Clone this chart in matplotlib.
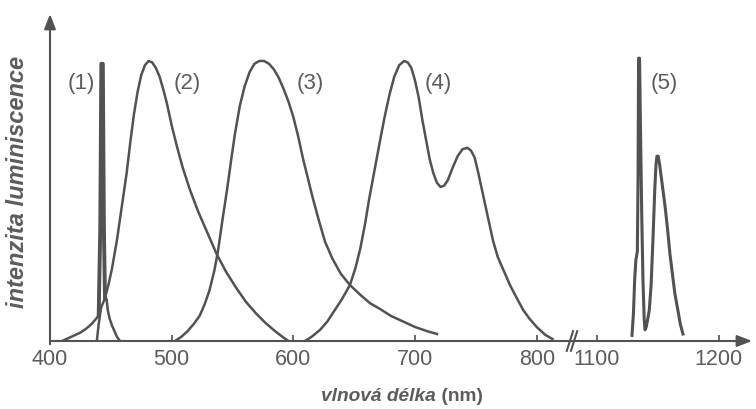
import matplotlib
matplotlib.use('Agg')
import matplotlib.pyplot as plt

# Luminiscenční spektra odečtená z obrázku
# vlnová délka v nm, intenzita normovaná na maximum

wl_1 = [410, 415, 420, 425, 430, 434, 437, 440, 441.3, 442.2, 443.4, 444.3, 445.2, 446.5,
        447.5, 449, 451, 453, 455, 457]
int_1 = [0.0, 0.01, 0.02, 0.03, 0.045, 0.06, 0.075, 0.09, 0.4, 0.99, 0.99, 0.4, 0.15, 0.15,
         0.11, 0.08, 0.055, 0.035, 0.015, 0.003]

wl_2 = [438.5, 440, 442, 445, 448, 451, 455, 459, 463, 466, 469, 472, 475, 478, 481, 484,
        487, 490, 493, 496, 500, 504, 509, 515, 522, 529, 537, 545, 553, 561, 569, 577,
        585, 591, 596]
int_2 = [0.0, 0.06, 0.12, 0.15, 0.20, 0.26, 0.36, 0.48, 0.60, 0.71, 0.81, 0.89, 0.95, 0.985,
         1.0, 0.995, 0.975, 0.945, 0.90, 0.85, 0.77, 0.70, 0.62, 0.54, 0.46, 0.39, 0.31,
         0.245, 0.19, 0.14, 0.10, 0.065, 0.035, 0.015, 0.0]

wl_3 = [502.7, 508, 513, 518, 523, 527, 531, 535, 538, 542, 545.5, 549, 552, 556, 560, 564,
        568, 572, 576, 580, 584, 588, 592, 596, 600, 604, 608, 612, 616, 621, 626, 632, 639,
        646.5, 655, 663, 671, 680, 690, 700, 710, 718]
int_3 = [0.0, 0.015, 0.035, 0.06, 0.09, 0.13, 0.18, 0.25, 0.32, 0.44, 0.54, 0.65, 0.74, 0.84,
         0.91, 0.96, 0.99, 1.0, 1.0, 0.99, 0.97, 0.94, 0.90, 0.855, 0.80, 0.73, 0.65, 0.58,
         0.51, 0.43, 0.355, 0.295, 0.24, 0.20, 0.165, 0.135, 0.115, 0.09, 0.07, 0.05, 0.035,
         0.025]

wl_4 = [609.5, 615, 622, 628, 634, 640, 646.5, 651, 655, 659, 662, 665, 668, 671, 675, 679,
        683, 687, 691, 694, 697, 700, 703, 706, 709, 712, 715, 718, 721, 724, 727, 731, 735,
        739, 743, 746, 749, 752, 756, 760, 764, 768, 773, 778, 784, 789, 794, 800, 807, 813]
int_4 = [0.0, 0.015, 0.04, 0.07, 0.11, 0.15, 0.20, 0.26, 0.33, 0.42, 0.50, 0.57, 0.64, 0.71,
         0.80, 0.88, 0.945, 0.985, 1.0, 0.995, 0.975, 0.93, 0.87, 0.79, 0.72, 0.65, 0.60,
         0.565, 0.55, 0.555, 0.575, 0.62, 0.66, 0.685, 0.69, 0.68, 0.655, 0.60, 0.52, 0.44,
         0.36, 0.30, 0.25, 0.20, 0.15, 0.11, 0.08, 0.05, 0.022, 0.007]

wl_5 = [1128.8, 1130, 1131, 1132, 1133.2, 1133.8, 1134.2, 1135.0, 1135.8, 1136.8, 1137.8,
        1138.8, 1139.5, 1140.5, 1141.8, 1143, 1144.5, 1146, 1147.5, 1148.5, 1149.3, 1150.3,
        1151.5, 1153, 1154.5, 1156, 1158, 1160, 1162, 1164, 1166.5, 1168.5, 1170.7]
int_5 = [0.02, 0.10, 0.22, 0.29, 0.32, 0.6, 1.01, 1.01, 0.75, 0.45, 0.22, 0.08, 0.04, 0.05,
         0.08, 0.11, 0.20, 0.36, 0.54, 0.63, 0.66, 0.66, 0.63, 0.58, 0.53, 0.48, 0.40, 0.31,
         0.24, 0.17, 0.11, 0.06, 0.025]

labels = ['(1)', '(2)', '(3)', '(4)', '(5)']
label_wl = [425.5, 512.6, 613.6, 718.8, 1155]

ticks_left = [400, 500, 600, 700, 800]
ticks_right = [1100, 1200]

line_col = '#525252'
text_col = '#5c5c5c'
plt.rcParams['font.family'] = ['Liberation Sans', 'DejaVu Sans']

fig = plt.figure(figsize=(7.56, 4.10), dpi=100)
W, H = 756, 410
x0, xb, xe = 50, 572, 752
ybase, ytop = 342, 15
ax1 = fig.add_axes([x0 / W, 1 - ybase / H, (xb - x0) / W, (ybase - ytop) / H])
ax2 = fig.add_axes([xb / W, 1 - ybase / H, (xe - xb) / W, (ybase - ytop) / H])

ymax = (ybase - ytop) / 280
ax1.set_xlim(400, 829)
ax2.set_xlim(1079.5, 1227.4)
for ax in (ax1, ax2):
    ax.set_ylim(0, ymax)
    ax.patch.set_visible(False)
    for s in ('top', 'right', 'left'):
        ax.spines[s].set_visible(False)
    ax.spines['bottom'].set_color(line_col)
    ax.spines['bottom'].set_linewidth(1.5)
    ax.set_yticks([])
    ax.tick_params(axis='x', direction='in', length=4, width=1.2, color=line_col,
                   labelsize=15.5, labelcolor=text_col, pad=5)

ax1.set_xticks(ticks_left)
ax2.set_xticks(ticks_right)
ax2.spines['bottom'].set_visible(False)

for wl, it in [(wl_1, int_1), (wl_2, int_2), (wl_3, int_3), (wl_4, int_4)]:
    ax1.plot(wl, it, color=line_col, lw=1.8, solid_joinstyle='round')
ax1.plot(wl_1[7:13], int_1[7:13], color=line_col, lw=2.8, solid_joinstyle='round')
ax2.plot(wl_5, int_5, color=line_col, lw=2.2, solid_joinstyle='round')

for lab, xw in zip(labels, label_wl):
    ax = ax2 if xw > 1000 else ax1
    ax.text(xw, 0.925, lab, ha='center', va='center', fontsize=16, color=text_col)

# osy se šipkami
ax1.annotate('', xy=(0, 1), xycoords='axes fraction', xytext=(0, -0.01),
             arrowprops=dict(arrowstyle='-|>,head_length=0.9,head_width=0.35',
                             color=line_col, lw=1.5, shrinkA=0, shrinkB=0))
ax2.annotate('', xy=(1, 0), xycoords='axes fraction', xytext=(0, 0),
             arrowprops=dict(arrowstyle='-|>,head_length=0.9,head_width=0.35',
                             color=line_col, lw=1.5, shrinkA=0, shrinkB=0))

# znak přerušení osy
for dx in (-0.004, 0.004):
    ax1.plot([1 + dx - 0.006, 1 + dx + 0.006], [-0.03, 0.03], transform=ax1.transAxes,
             color=line_col, lw=1.5, clip_on=False)

fig.text(18 / W, 1 - 182 / H, 'intenzita luminiscence', rotation=90, ha='center', va='center',
         fontsize=17, fontweight='bold', fontstyle='italic', color=text_col)

t1 = fig.text(0.5, 1 - 397 / H, 'vlnová délka', ha='left', va='center', fontsize=13.8,
              fontweight='bold', fontstyle='italic', color=text_col)
t2 = fig.text(0.5, 1 - 397 / H, ' (nm)', ha='left', va='center', fontsize=13.8,
              fontweight='bold', color=text_col)
fig.canvas.draw()
r = fig.canvas.get_renderer()
w1 = t1.get_window_extent(r).width / W
w2 = t2.get_window_extent(r).width / W
start = 402 / W - (w1 + w2) / 2
t1.set_x(start)
t2.set_x(start + w1)

fig.savefig('out.png', dpi=100)
